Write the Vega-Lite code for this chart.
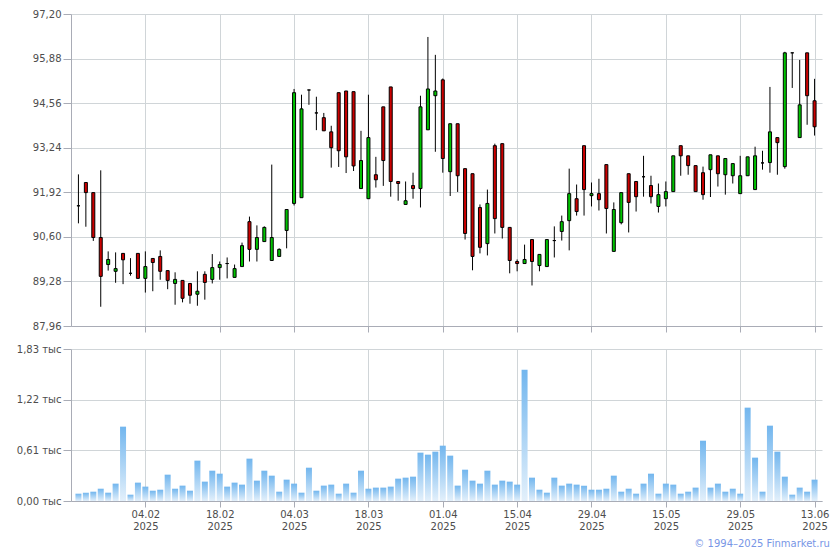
{
"$schema": "https://vega.github.io/schema/vega-lite/v6.json",
"background": "white",
"padding": {"left": 16, "top": 9, "right": 8, "bottom": 2},
"config": {"font": "DejaVu Sans", "view": {"stroke": null},
 "axis": {"labelFont": "DejaVu Sans", "labelFontSize": 10, "labelColor": "#4d4d4d", "gridColor": "#d0d5d8", "gridOpacity": 1, "domainColor": "#a9acb6", "tickColor": "#a9acb6", "title": null}},
"title": {"text": "© 1994–2025 Finmarket.ru", "orient": "bottom", "anchor": "end", "fontSize": 10, "fontWeight": "normal", "font": "DejaVu Sans", "color": "#7896e6", "offset": 8, "dx": 1},
"datasets": {"q": [
{"d":"2025-01-22","o":91.52,"h":92.45,"l":91.00,"c":91.52,"v":88},
{"d":"2025-01-23","o":92.21,"h":92.21,"l":90.90,"c":91.91,"v":100},
{"d":"2025-01-24","o":91.91,"h":91.91,"l":90.48,"c":90.58,"v":112},
{"d":"2025-01-27","o":90.58,"h":92.57,"l":88.53,"c":89.43,"v":148},
{"d":"2025-01-28","o":89.78,"h":90.17,"l":89.60,"c":89.93,"v":100},
{"d":"2025-01-29","o":89.58,"h":90.14,"l":89.24,"c":89.66,"v":209},
{"d":"2025-01-30","o":90.11,"h":90.11,"l":89.20,"c":89.92,"v":895},
{"d":"2025-01-31","o":89.52,"h":89.97,"l":89.45,"c":89.52,"v":76},
{"d":"2025-02-03","o":90.11,"h":90.11,"l":89.37,"c":89.37,"v":221},
{"d":"2025-02-04","o":89.37,"h":90.17,"l":88.95,"c":89.72,"v":173},
{"d":"2025-02-05","o":89.96,"h":89.96,"l":88.99,"c":89.84,"v":124},
{"d":"2025-02-06","o":90.02,"h":90.20,"l":89.33,"c":89.58,"v":136},
{"d":"2025-02-07","o":89.60,"h":89.60,"l":89.05,"c":89.31,"v":317},
{"d":"2025-02-10","o":89.22,"h":89.55,"l":88.59,"c":89.34,"v":148},
{"d":"2025-02-11","o":89.31,"h":89.31,"l":88.66,"c":88.78,"v":185},
{"d":"2025-02-12","o":89.22,"h":89.22,"l":88.62,"c":88.87,"v":124},
{"d":"2025-02-13","o":88.90,"h":89.58,"l":88.56,"c":88.99,"v":486},
{"d":"2025-02-14","o":89.49,"h":89.58,"l":88.74,"c":89.25,"v":233},
{"d":"2025-02-17","o":89.34,"h":90.09,"l":89.22,"c":89.69,"v":365},
{"d":"2025-02-18","o":89.69,"h":89.87,"l":89.33,"c":89.78,"v":329},
{"d":"2025-02-19","o":89.81,"h":89.99,"l":89.37,"c":89.81,"v":173},
{"d":"2025-02-20","o":89.40,"h":89.78,"l":89.40,"c":89.66,"v":221},
{"d":"2025-02-21","o":89.72,"h":90.43,"l":89.72,"c":90.34,"v":197},
{"d":"2025-02-24","o":91.05,"h":91.20,"l":89.87,"c":90.23,"v":510},
{"d":"2025-02-25","o":90.23,"h":90.94,"l":89.87,"c":90.58,"v":245},
{"d":"2025-02-26","o":90.46,"h":90.91,"l":90.46,"c":90.88,"v":365},
{"d":"2025-02-27","o":89.90,"h":92.74,"l":89.90,"c":90.58,"v":305},
{"d":"2025-02-28","o":90.02,"h":90.26,"l":90.02,"c":90.23,"v":112},
{"d":"2025-03-03","o":90.79,"h":91.41,"l":90.26,"c":91.41,"v":257},
{"d":"2025-03-04","o":91.59,"h":94.98,"l":91.53,"c":94.87,"v":209},
{"d":"2025-03-05","o":91.76,"h":94.81,"l":91.76,"c":94.39,"v":100},
{"d":"2025-03-06","o":94.95,"h":94.95,"l":94.51,"c":94.95,"v":401},
{"d":"2025-03-07","o":94.27,"h":94.75,"l":93.76,"c":94.27,"v":124},
{"d":"2025-03-10","o":94.13,"h":94.27,"l":93.74,"c":93.74,"v":185},
{"d":"2025-03-11","o":93.71,"h":93.89,"l":92.65,"c":93.24,"v":197},
{"d":"2025-03-12","o":94.87,"h":94.87,"l":92.67,"c":93.15,"v":88},
{"d":"2025-03-13","o":94.92,"h":94.92,"l":92.49,"c":92.97,"v":209},
{"d":"2025-03-14","o":94.90,"h":94.90,"l":92.55,"c":92.70,"v":100},
{"d":"2025-03-17","o":92.03,"h":93.74,"l":92.03,"c":92.86,"v":365},
{"d":"2025-03-18","o":91.73,"h":94.81,"l":91.73,"c":93.54,"v":148},
{"d":"2025-03-19","o":92.44,"h":92.97,"l":92.06,"c":92.29,"v":161},
{"d":"2025-03-20","o":94.45,"h":94.45,"l":92.11,"c":92.86,"v":161},
{"d":"2025-03-21","o":95.04,"h":95.04,"l":91.79,"c":92.24,"v":173},
{"d":"2025-03-24","o":92.24,"h":92.24,"l":91.67,"c":92.18,"v":269},
{"d":"2025-03-25","o":91.56,"h":92.24,"l":91.56,"c":91.67,"v":281},
{"d":"2025-03-26","o":92.12,"h":92.50,"l":91.73,"c":92.03,"v":293},
{"d":"2025-03-27","o":92.03,"h":94.78,"l":91.47,"c":94.45,"v":582},
{"d":"2025-03-28","o":93.77,"h":96.52,"l":93.77,"c":94.98,"v":558},
{"d":"2025-03-31","o":94.78,"h":95.99,"l":93.12,"c":94.92,"v":594},
{"d":"2025-04-01","o":95.25,"h":95.29,"l":92.50,"c":92.92,"v":666},
{"d":"2025-04-02","o":92.53,"h":93.95,"l":91.81,"c":93.95,"v":546},
{"d":"2025-04-03","o":93.95,"h":93.95,"l":91.93,"c":92.41,"v":185},
{"d":"2025-04-04","o":92.62,"h":92.62,"l":90.52,"c":90.70,"v":377},
{"d":"2025-04-07","o":92.47,"h":92.47,"l":89.61,"c":90.02,"v":245},
{"d":"2025-04-08","o":91.47,"h":91.56,"l":90.11,"c":90.29,"v":209},
{"d":"2025-04-09","o":90.40,"h":92.00,"l":90.05,"c":91.59,"v":365},
{"d":"2025-04-10","o":93.30,"h":93.36,"l":90.70,"c":91.14,"v":197},
{"d":"2025-04-11","o":93.36,"h":93.36,"l":90.55,"c":90.88,"v":245},
{"d":"2025-04-14","o":90.88,"h":90.88,"l":89.52,"c":89.90,"v":233},
{"d":"2025-04-15","o":89.87,"h":89.93,"l":89.58,"c":89.81,"v":197},
{"d":"2025-04-16","o":89.81,"h":90.37,"l":89.81,"c":89.93,"v":1581},
{"d":"2025-04-17","o":90.52,"h":90.52,"l":89.16,"c":89.87,"v":281},
{"d":"2025-04-18","o":89.75,"h":90.08,"l":89.58,"c":90.08,"v":136},
{"d":"2025-04-21","o":89.72,"h":90.52,"l":89.72,"c":90.52,"v":100},
{"d":"2025-04-22","o":90.49,"h":90.91,"l":89.99,"c":90.49,"v":281},
{"d":"2025-04-23","o":90.76,"h":91.23,"l":90.49,"c":91.05,"v":185},
{"d":"2025-04-24","o":91.08,"h":92.62,"l":90.20,"c":91.88,"v":209},
{"d":"2025-04-25","o":91.73,"h":92.15,"l":91.23,"c":91.35,"v":197},
{"d":"2025-04-28","o":93.30,"h":93.30,"l":91.23,"c":92.00,"v":185},
{"d":"2025-04-29","o":91.82,"h":92.21,"l":91.50,"c":91.88,"v":136},
{"d":"2025-04-30","o":91.88,"h":92.32,"l":91.38,"c":91.70,"v":136},
{"d":"2025-05-02","o":92.74,"h":92.74,"l":90.70,"c":91.44,"v":148},
{"d":"2025-05-05","o":90.17,"h":91.62,"l":90.17,"c":91.41,"v":305},
{"d":"2025-05-06","o":91.02,"h":91.91,"l":90.97,"c":91.91,"v":112},
{"d":"2025-05-07","o":92.47,"h":92.47,"l":90.73,"c":91.62,"v":148},
{"d":"2025-05-08","o":92.24,"h":92.24,"l":91.35,"c":91.79,"v":88},
{"d":"2025-05-12","o":92.38,"h":93.00,"l":91.79,"c":92.38,"v":209},
{"d":"2025-05-13","o":92.12,"h":92.41,"l":91.59,"c":91.79,"v":329},
{"d":"2025-05-14","o":91.50,"h":92.18,"l":91.32,"c":91.85,"v":88},
{"d":"2025-05-15","o":91.73,"h":92.24,"l":91.50,"c":91.94,"v":209},
{"d":"2025-05-16","o":91.94,"h":93.00,"l":91.94,"c":93.00,"v":197},
{"d":"2025-05-19","o":93.30,"h":93.30,"l":92.41,"c":93.00,"v":88},
{"d":"2025-05-20","o":93.00,"h":93.00,"l":92.44,"c":92.71,"v":112},
{"d":"2025-05-21","o":92.71,"h":92.71,"l":91.94,"c":91.94,"v":161},
{"d":"2025-05-22","o":92.50,"h":92.68,"l":91.70,"c":91.85,"v":726},
{"d":"2025-05-23","o":92.59,"h":93.03,"l":91.78,"c":93.03,"v":161},
{"d":"2025-05-26","o":93.00,"h":93.00,"l":92.09,"c":92.47,"v":209},
{"d":"2025-05-27","o":92.44,"h":92.92,"l":91.85,"c":92.92,"v":112},
{"d":"2025-05-28","o":92.41,"h":92.77,"l":92.18,"c":92.77,"v":148},
{"d":"2025-05-29","o":91.88,"h":93.00,"l":91.88,"c":92.41,"v":88},
{"d":"2025-05-30","o":92.41,"h":92.97,"l":92.41,"c":92.97,"v":1124},
{"d":"2025-06-02","o":92.00,"h":93.27,"l":92.00,"c":93.00,"v":522},
{"d":"2025-06-03","o":92.79,"h":93.15,"l":92.59,"c":92.79,"v":112},
{"d":"2025-06-04","o":92.80,"h":95.04,"l":92.50,"c":93.71,"v":907},
{"d":"2025-06-05","o":93.54,"h":93.54,"l":92.44,"c":93.39,"v":594},
{"d":"2025-06-06","o":92.68,"h":96.08,"l":92.62,"c":96.05,"v":293},
{"d":"2025-06-09","o":96.05,"h":96.05,"l":95.01,"c":96.05,"v":76},
{"d":"2025-06-10","o":93.54,"h":95.84,"l":93.54,"c":94.51,"v":161},
{"d":"2025-06-11","o":96.05,"h":96.05,"l":93.92,"c":94.78,"v":112},
{"d":"2025-06-13","o":94.63,"h":95.28,"l":93.60,"c":93.86,"v":257}
]},
"bounds": "flush",
"spacing": 23,
"vconcat": [
 {
  "width": 751, "height": 312,
  "data": {"name": "q"},
  "encoding": {
   "x": {"field": "d", "type": "ordinal", "scale": {"type": "point", "padding": 1.08},
    "axis": {"title": null, "values": ["2025-02-04","2025-02-18","2025-03-04","2025-03-18","2025-04-01","2025-04-15","2025-04-29","2025-05-15","2025-05-29","2025-06-13"], "labels": false, "tickSize": 6, "grid": true}}
  },
  "layer": [
   {
    "mark": {"type": "rule", "color": "#000000", "strokeWidth": 1},
    "encoding": {
     "y": {"field": "l", "type": "quantitative", "scale": {"domain": [87.96, 97.2], "nice": false, "zero": false},
      "axis": {"title": null, "values": [87.96, 89.28, 90.6, 91.92, 93.24, 94.56, 95.88, 97.2], "labelExpr": "replace(format(datum.value, '.2f'), '.', ',')", "tickSize": 8, "labelPadding": 2, "grid": true}},
     "y2": {"field": "h"}
    }
   },
   {
    "mark": {"type": "bar", "size": 3, "stroke": "#000000", "strokeWidth": 1},
    "encoding": {
     "y": {"field": "o", "type": "quantitative", "scale": {"domain": [87.96, 97.2], "nice": false, "zero": false},
      "axis": {"title": null, "values": [87.96, 89.28, 90.6, 91.92, 93.24, 94.56, 95.88, 97.2], "labelExpr": "replace(format(datum.value, '.2f'), '.', ',')", "tickSize": 8, "labelPadding": 2, "grid": true}},
     "y2": {"field": "c"},
     "fill": {"condition": {"test": "datum.c > datum.o", "value": "#00c400"}, "value": "#cc0000"}
    }
   }
  ]
 },
 {
  "width": 751, "height": 152,
  "data": {"name": "q"},
  "mark": {"type": "bar", "size": 6, "color": {"gradient": "linear", "x1": 0, "y1": 0, "x2": 0, "y2": 1, "stops": [{"offset": 0, "color": "#72b6ee"}, {"offset": 1, "color": "#e3f0fb"}]}},
  "encoding": {
   "x": {"field": "d", "type": "ordinal", "scale": {"type": "point", "padding": 1.08},
    "axis": {"title": null, "values": ["2025-02-04","2025-02-18","2025-03-04","2025-03-18","2025-04-01","2025-04-15","2025-04-29","2025-05-15","2025-05-29","2025-06-13"], "labelExpr": "[slice(datum.value, 8, 10) + '.' + slice(datum.value, 5, 7), slice(datum.value, 0, 4)]", "labelAngle": 0, "labelLineHeight": 12, "tickSize": 6, "labelPadding": 2, "grid": true}},
   "y": {"field": "v", "type": "quantitative", "scale": {"domain": [0, 1830], "nice": false},
    "axis": {"title": null, "values": [0, 610, 1220, 1830], "labelExpr": "replace(format(datum.value / 1000, '.2f'), '.', ',') + ' тыс'", "tickSize": 8, "labelPadding": 2, "grid": true}}
  }
 }
]
}
